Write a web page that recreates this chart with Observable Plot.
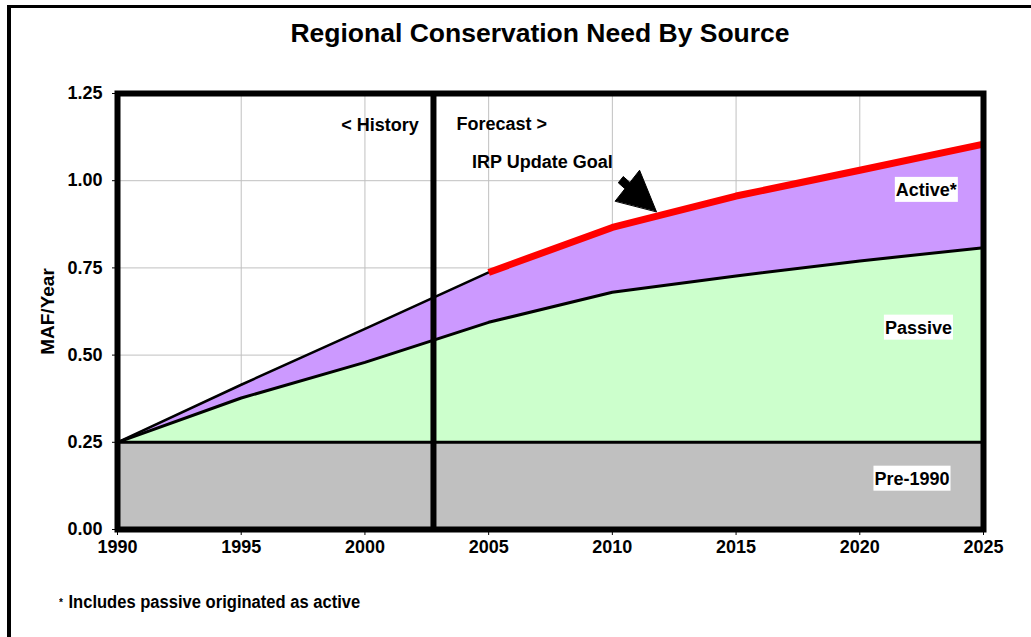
<!DOCTYPE html>
<html>
<head>
<meta charset="utf-8">
<script src="https://cdn.jsdelivr.net/npm/d3@7"></script>
<script src="https://cdn.jsdelivr.net/npm/@observablehq/plot@0.6"></script>
<style>
  html, body { margin: 0; padding: 0; background: white; }
  #wrap { position: relative; width: 1031px; height: 637px; overflow: hidden; background: white;
          font-family: "Liberation Sans", Arial, sans-serif; font-weight: bold; color: black; }
  #title { position: absolute; left: 49px; right: 0; top: 17px; text-align: center; font-size: 26.5px; line-height: 32px; }
  #chart { position: absolute; left: 0; top: 60px; }
  #note { position: absolute; left: 59px; top: 592px; font-size: 18px; line-height: 20px;
          white-space: nowrap; transform: scaleX(0.92); transform-origin: 0 50%; }
  #note .ast { font-size: 11px; vertical-align: 2px; margin-right: 6px; }
  #border { position: absolute; left: 7px; top: 5px; width: 1100px; height: 700px;
            border-left: 4px solid black; border-top: 3px solid black; pointer-events: none; }
</style>
</head>
<body>
<div id="wrap">
  <div id="title">Regional Conservation Need By Source</div>
  <div id="chart"></div>
  <div id="note"><span class="ast">*</span>Includes passive originated as active</div>
  <div id="border"></div>
</div>
<script>
// ---- data ----
const years    = [1990, 1995, 2000, 2005, 2010, 2015, 2020, 2025];
const pre1990  = [0.25, 0.25, 0.25, 0.25, 0.25, 0.25, 0.25, 0.25];
const passive  = [0.25, 0.377, 0.479, 0.594, 0.680, 0.727, 0.770, 0.808];
const total    = [0.25, 0.415, 0.575, 0.737, 0.866, 0.956, 1.030, 1.105];
const goalYears = [2005, 2010, 2015, 2020, 2025];
const irpGoal   = [0.737, 0.866, 0.956, 1.030, 1.105];
const historyYear = 2002.77;
const xTicks = [1990, 1995, 2000, 2005, 2010, 2015, 2020, 2025];
const yTicks = [0, 0.25, 0.5, 0.75, 1.0, 1.25];
const xGrid = [1995, 2000, 2005, 2010, 2015, 2020];
const yGrid = [0.5, 0.75, 1.0];
// block arrow pointing at the IRP goal line (data coordinates)
const arrowX = [2011.78, 2011.10, 2010.71, 2010.44, 2010.24, 2010.51, 2010.12];
const arrowY = [0.9115, 1.030, 0.995, 1.012, 0.994, 0.977, 0.942];

const rows = years.map((year, i) => ({year, pre: pre1990[i], passive: passive[i], total: total[i]}));
const historyRows = rows.filter(d => d.year <= 2005);
const goalRows = goalYears.map((year, i) => ({year, goal: irpGoal[i]}));
const arrow = arrowX.map((x, i) => ({x, y: arrowY[i]}));

const font = "'Liberation Sans', Arial, sans-serif";

const chart = Plot.plot({
  width: 1031,
  height: 520,
  marginLeft: 117,
  marginRight: 48,
  marginTop: 33,
  marginBottom: 51,
  style: {fontFamily: font, fontSize: "18px", fontWeight: "bold", color: "black", background: "transparent"},
  x: {domain: [1990, 2025], axis: null},
  y: {domain: [0, 1.25], axis: null},
  marks: [
    Plot.gridX(xGrid, {stroke: "#c0c0c0", strokeOpacity: 1, strokeWidth: 1}),
    Plot.gridY(yGrid, {stroke: "#c0c0c0", strokeOpacity: 1, strokeWidth: 1}),
    Plot.areaY(rows, {x: "year", y1: 0, y2: "pre", fill: "#c0c0c0"}),
    Plot.areaY(rows, {x: "year", y1: "pre", y2: "passive", fill: "#ccffcc"}),
    Plot.areaY(rows, {x: "year", y1: "passive", y2: "total", fill: "#cc99ff"}),
    Plot.lineY(rows, {x: "year", y: "pre", stroke: "black", strokeWidth: 3}),
    Plot.lineY(rows, {x: "year", y: "passive", stroke: "black", strokeWidth: 3}),
    Plot.lineY(historyRows, {x: "year", y: "total", stroke: "black", strokeWidth: 2.5}),
    Plot.lineY(goalRows, {x: "year", y: "goal", stroke: "#ff0000", strokeWidth: 7, strokeLinecap: "butt"}),
    Plot.ruleX([historyYear], {stroke: "black", strokeWidth: 6}),
    Plot.frame({stroke: "black", strokeWidth: 6}),
    Plot.line(arrow, {x: "x", y: "y", fill: "black", stroke: "black", strokeWidth: 1, curve: "linear-closed"}),
    Plot.text(["< History"], {x: 2002.18, y: 1.160, textAnchor: "end", fontSize: 18, fontWeight: "bold"}),
    Plot.text(["Forecast >"], {x: 2003.70, y: 1.162, textAnchor: "start", fontSize: 18, fontWeight: "bold"}),
    Plot.text(["IRP Update Goal"], {x: 2004.33, y: 1.052, textAnchor: "start", fontSize: 18, fontWeight: "bold"}),
    Plot.text(["Active*"], {x: 2022.69, y: 0.973, fontSize: 18, fontWeight: "bold"}),
    Plot.text(["Passive"], {x: 2022.37, y: 0.578, fontSize: 18, fontWeight: "bold"}),
    Plot.text(["Pre-1990"], {x: 2022.11, y: 0.145, fontSize: 18, fontWeight: "bold"}),
    Plot.axisY(yTicks, {tickFormat: d => d.toFixed(2), tickSize: 5, tickPadding: 10, label: null, stroke: "black"}),
    Plot.axisX(xTicks, {tickFormat: d => String(d), tickSize: 6, tickPadding: 5, label: null, stroke: "black"}),
    Plot.text(["MAF/Year"], {frameAnchor: "left", dx: -69.5, rotate: -90, textAnchor: "middle", fontSize: 19, fontWeight: "bold"})
  ]
});

document.getElementById("chart").appendChild(chart);

// white label boxes behind the series labels
const boxed = ["Active*", "Passive", "Pre-1990"];
d3.select(chart).selectAll("text").filter(function() { return boxed.includes(this.textContent); })
  .each(function() {
    const b = this.getBBox();
    const t = this.getAttribute("transform");
    const r = document.createElementNS("http://www.w3.org/2000/svg", "rect");
    r.setAttribute("x", b.x - 1);
    r.setAttribute("y", b.y - 3);
    r.setAttribute("width", b.width + 2);
    r.setAttribute("height", b.height + 5);
    r.setAttribute("fill", "white");
    if (t) r.setAttribute("transform", t);
    this.parentNode.insertBefore(r, this);
  });
</script>
</body>
</html>
